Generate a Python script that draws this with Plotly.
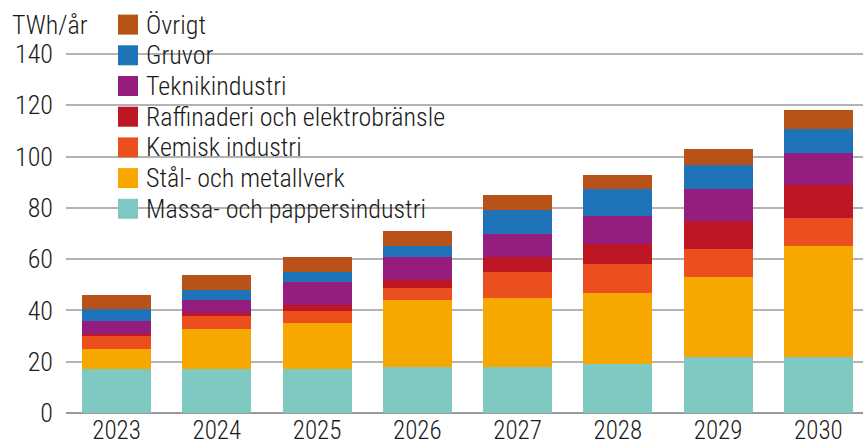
import plotly.graph_objects as go

# ---- data ----
years = ["2023", "2024", "2025", "2026", "2027", "2028", "2029", "2030"]
massa = [17.0, 17.0, 17.0, 18.0, 18.0, 19.0, 21.8, 21.8]
stal = [8.0, 15.7, 18.2, 26.1, 26.9, 27.9, 31.3, 43.4]
kemisk = [5.2, 5.2, 4.7, 4.7, 10.2, 11.4, 10.9, 11.0]
raffinaderi = [0.8, 1.1, 2.2, 3.2, 5.7, 7.8, 11.0, 12.8]
teknik = [5.0, 5.2, 9.1, 8.8, 9.1, 10.9, 12.2, 12.3]
gruvor = [4.4, 3.9, 3.9, 4.4, 9.4, 10.2, 9.6, 9.6]
ovrigt = [5.8, 5.8, 5.9, 5.9, 5.9, 5.8, 6.3, 7.1]

series_names = [
    "Massa- och pappersindustri",
    "Stål- och metallverk",
    "Kemisk industri",
    "Raffinaderi och elektrobränsle",
    "Teknikindustri",
    "Gruvor",
    "Övrigt",
]
series_values = [massa, stal, kemisk, raffinaderi, teknik, gruvor, ovrigt]
series_colors = ["#7ECAC3", "#F6A800", "#EA4F1D", "#BE1622", "#951D7E", "#1E73B9", "#B85218"]
y_ticks = [0, 20, 40, 60, 80, 100, 120, 140]
unit_label = "TWh/år"

# ---- layout geometry ----
W, H = 863, 443
ML, MR, MT, MB = 66, 0, 51, 30
PW, PH = W - ML - MR, H - MT - MB
Y_TOP = 140 * PH / 359.0
FONT = "Roboto Condensed, Roboto, sans-serif"
FS = 26
TXT = "#1a1a1a"


def fnt(size=FS):
    return dict(family=FONT, size=size, color=TXT, weight=300)


def px_x(px):
    return (px - ML) / PW


def px_y(py):
    return (H - MB - py) / PH


fig = go.Figure()
for name, vals, col in zip(series_names, series_values, series_colors):
    fig.add_trace(go.Bar(x=years, y=vals, name=name, marker=dict(color=col, line=dict(width=0)),
                         showlegend=False, hoverinfo="skip"))

shapes = []
annotations = []
shapes.append(dict(type="rect", xref="paper", yref="paper", layer="between",
                   x0=px_x(106), x1=px_x(461), y0=px_y(232), y1=px_y(6),
                   fillcolor="white", line=dict(width=0)))

row0, row_step = 24.6, 30.7
for i, (name, col) in enumerate(zip(reversed(series_names), reversed(series_colors))):
    cy = row0 + i * row_step
    shapes.append(dict(type="rect", xref="paper", yref="paper", layer="above",
                       x0=px_x(118), x1=px_x(138), y0=px_y(cy + 10), y1=px_y(cy - 10),
                       fillcolor=col, line=dict(width=0)))
    annotations.append(dict(text=name, xref="paper", yref="paper", x=px_x(144), y=px_y(cy),
                            xanchor="left", yanchor="middle", showarrow=False, font=fnt()))

annotations.append(dict(text=unit_label, xref="paper", yref="paper", x=px_x(10), y=px_y(24.6),
                        xanchor="left", yanchor="middle", showarrow=False, font=fnt()))

fig.update_layout(
    width=W, height=H,
    margin=dict(l=ML, r=MR, t=MT, b=MB, pad=0),
    barmode="stack",
    bargap=0.312,
    plot_bgcolor="white", paper_bgcolor="white",
    font=fnt(),
    shapes=shapes,
    annotations=annotations,
    showlegend=False,
)
fig.update_xaxes(type="category", range=[-0.504, 7.445], showgrid=False, showline=False,
                 ticks="", tickfont=fnt(25), ticklabelstandoff=0, automargin=False)
fig.update_yaxes(range=[0, Y_TOP], tickvals=y_ticks, showgrid=True, gridcolor="#b3b3b3", gridwidth=1.5,
                 zeroline=True, zerolinecolor="#9a9a9a", zerolinewidth=2, showline=False, ticks="",
                 tickfont=fnt(), ticklabelstandoff=12, automargin=False)

fig.write_html("out.html", config={"displayModeBar": False},
               post_script="document.body.style.margin='0';")
